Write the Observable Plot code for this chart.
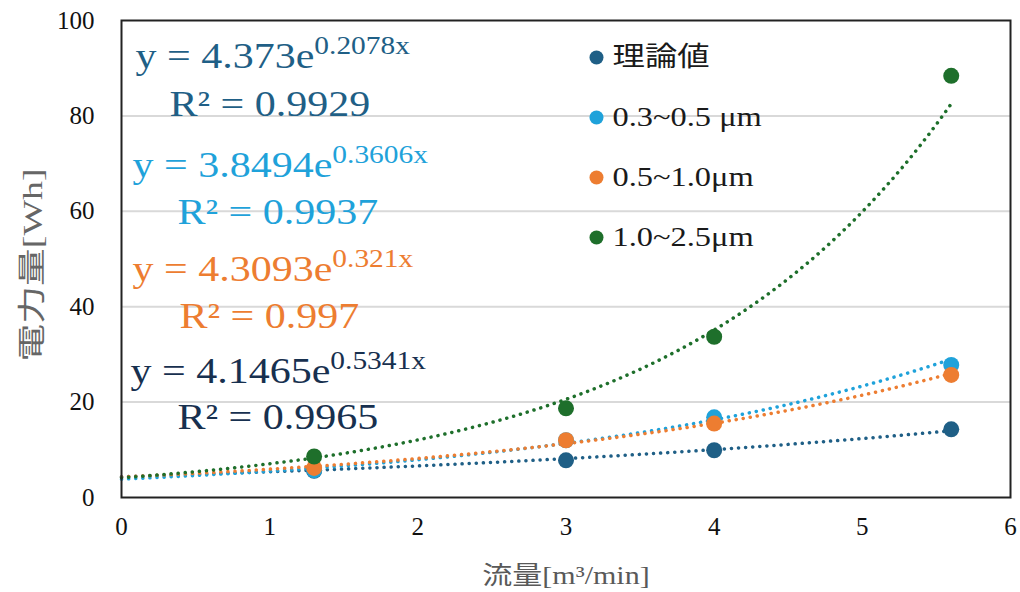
<!DOCTYPE html>
<html><head><meta charset="utf-8">
<script src="https://cdn.jsdelivr.net/npm/d3@7"></script>
<script src="https://cdn.jsdelivr.net/npm/@observablehq/plot@0.6"></script>
<style>
body{margin:0;background:#fff}
#chart{width:1020px;height:592px}
</style>
</head><body><div id="chart"></div>
<script>
// ---- data ----
const flow = [1.3, 3, 4, 5.6];
const seriesNames = ["理論値", "0.3~0.5 μm", "0.5~1.0μm", "1.0~2.5μm"];
const theory = [5.6, 7.8, 9.9, 14.3];
const pm0305 = [5.7, 12.0, 16.8, 27.8];
const pm0510 = [6.2, 12.0, 15.5, 25.7];
const pm1025 = [8.6, 18.7, 33.7, 88.4];
const coefA = [4.373, 3.8494, 4.3093, 4.1465];
const coefB = [0.2078, 0.3606, 0.321, 0.5341];
const rSquared = [0.9929, 0.9937, 0.997, 0.9965];
const colors = ["#1f5f86", "#1fa2da", "#ed7d31", "#1e6f2b"];
const eqColors = ["#1f5f86", "#1fa2da", "#ed7d31", "#17304f"];
const xTicks = [0, 1, 2, 3, 4, 5, 6];
const yTicks = [0, 20, 40, 60, 80, 100];
const xTitle = "流量[m³/min]";
const yTitle = "電力量[Wh]";

const values = [theory, pm0305, pm0510, pm1025];
const points = values.flatMap((arr, s) => arr.map((v, i) => ({x: flow[i], y: v, s})));

// exponential trendlines y = a·e^(bx) as given in the chart's equations
const trend = coefA.flatMap((a, s) =>
  d3.range(0, 5.6 + 1e-9, 0.05).map(x => ({x, y: a * Math.exp(coefB[s] * x), s})));

const serif = "Liberation Serif, Times New Roman, Noto Sans CJK JP, serif";
const stretch = new Map();

function label(str, color, dx, dy, size, extra = {}) {
  stretch.set(str, 1.2);
  return Plot.text([str], {
    text: d => d, frameAnchor: "top-left", dx, dy, fill: color,
    fontSize: size, fontFamily: serif, textAnchor: "start", lineAnchor: "middle", ...extra
  });
}

// equation annotations (offsets from the frame's top-left corner)
const eqOffsets = [[14, 36, 48, 84], [11, 145, 56, 192], [11, 249, 58, 296], [9, 351, 56, 397]];
const eqMarks = coefA.flatMap((a, s) => {
  const [ex, ey, rx, ry] = eqOffsets[s];
  return [
    label(`y = ${a}e^${coefB[s]}x`, eqColors[s], ex, ey, 35),
    label(`R² = ${rSquared[s]}`, eqColors[s], rx, ry, 35)
  ];
});

// legend inside the frame
const legendMarks = seriesNames.flatMap((name, s) => [
  Plot.dot([name], {frameAnchor: "top-left", dx: 475, dy: 37 + s * 60, r: 7, fill: colors[s]}),
  label(name, "#1a1a1a", 491, 37 + s * 60, 27)
]);

stretch.set(xTitle, 1.2); stretch.set(yTitle, 1.35);

const chart = Plot.plot({
  width: 1020, height: 592,
  marginLeft: 121, marginRight: 10, marginTop: 20, marginBottom: 95,
  x: {domain: [0, 6], ticks: xTicks},
  y: {domain: [0, 100], ticks: yTicks},
  style: {fontFamily: serif, background: "#fff"},
  marks: [
    Plot.gridY(yTicks.filter(v => v > 0 && v < 100), {stroke: "#d9d9d9", strokeWidth: 2, strokeOpacity: 1}),
    Plot.axisX(xTicks, {tickSize: 0, tickPadding: 20, fontSize: 25, fill: "#111", label: null,
      tickFormat: d3.format("d"), fontFamily: serif}),
    Plot.axisY(yTicks, {tickSize: 0, tickPadding: 27, fontSize: 25, fill: "#111", label: null,
      tickFormat: d3.format("d"), fontFamily: serif}),
    Plot.line(trend, {x: "x", y: "y", z: "s", stroke: d => colors[d.s], strokeWidth: 3.5,
      strokeDasharray: "0.1 7", strokeLinecap: "round"}),
    Plot.dot(points, {x: "x", y: "y", r: 8, fill: d => colors[d.s]}),
    Plot.frame({stroke: "#222", strokeWidth: 2}),
    ...eqMarks,
    ...legendMarks,
    Plot.text([xTitle], {text: d => d, frameAnchor: "bottom", lineAnchor: "middle", textAnchor: "middle",
      dy: 78, fontSize: 25, fill: "#595959", fontFamily: serif}),
    Plot.text([yTitle], {text: d => d, frameAnchor: "left", lineAnchor: "middle", textAnchor: "middle",
      dx: -88, dy: 6, rotate: -90, fontSize: 28, fill: "#666", fontFamily: serif})
  ]
});
document.getElementById("chart").appendChild(chart);

// force the serif face everywhere, add superscripts, stretch the Excel-style text
d3.select(chart).selectAll("text").style("font-family", serif);
d3.select(chart).selectAll("text").each(function () {
  const t = this.textContent;
  if (!stretch.has(t)) return;
  const k = stretch.get(t);
  const el = d3.select(this);
  if (t.includes("^")) {
    const [main, sup] = t.split("^");
    el.text(main);
    el.append("tspan").attr("font-size", "0.7em").attr("dy", "-14").text(sup);
  }
  const len = this.getComputedTextLength();
  el.attr("textLength", len * k).attr("lengthAdjust", "spacingAndGlyphs");
});
</script>
</body></html>
